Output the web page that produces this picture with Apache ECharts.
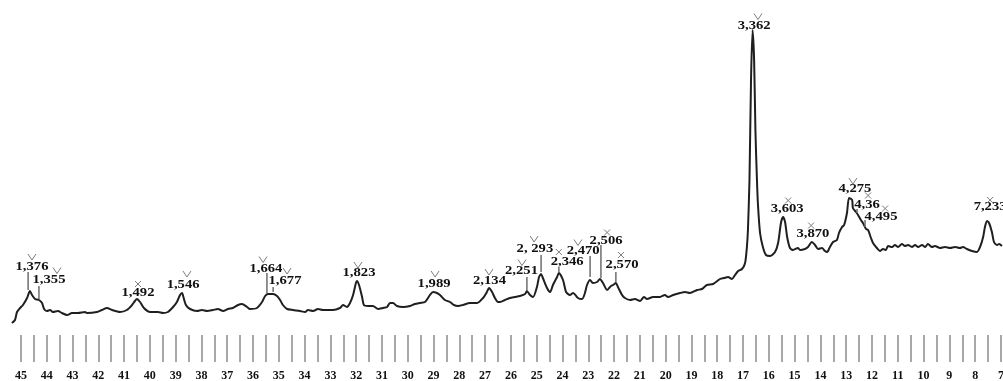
<!DOCTYPE html>
<html>
<head>
<meta charset="utf-8">
<script src="https://cdn.jsdelivr.net/npm/echarts@6/dist/echarts.min.js"></script>
<style>
  html, body { margin: 0; padding: 0; background: #ffffff; }
  #chart { width: 1003px; height: 381px; }
</style>
</head>
<body>
<div id="chart"></div>
<script>
// Diffractogram trace, [2θ, counts], split by angular range (high angle → low angle)
const scan45to36 = [
  [45.35,12],[45.23,15],[45.15,23],[45.03,27],[44.92,30],[44.76,37],[44.65,44],[44.57,40],[44.45,36],
  [44.30,35],[44.18,32],[44.10,26],[43.99,24],[43.87,25],[43.76,23],[43.56,24],[43.41,22],[43.21,20],
  [43.02,22],[42.79,22],[42.51,23],[42.44,22],[42.05,23],[41.86,25],[41.66,27],[41.47,25],[41.16,23],
  [40.89,25],[40.69,30],[40.58,34],[40.50,36],[40.38,33],[40.23,27],[39.99,23],[39.68,23],[39.49,22],
  [39.30,23],[39.10,28],[38.95,33],[38.83,40],[38.75,42],[38.72,40],[38.60,30],[38.44,26],[38.17,24],
  [37.98,25],[37.78,24],[37.55,25],[37.36,26],[37.16,24],[36.97,26],[36.78,27],[36.58,30],[36.43,31],
  [36.23,28]
];
const scan36to26 = [
  [36.12,26],[35.85,27],[35.65,33],[35.53,39],[35.42,41],[35.22,41],[35.07,39],[34.95,35],[34.84,30],
  [34.68,26],[34.45,25],[34.18,24],[33.98,23],[33.87,25],[33.67,24],[33.48,26],[33.29,25],[32.90,25],
  [32.63,27],[32.51,30],[32.36,28],[32.24,32],[32.12,40],[32.01,52],[31.97,54],[31.89,50],[31.77,38],
  [31.70,30],[31.54,29],[31.35,29],[31.15,26],[30.96,27],[30.80,28],[30.69,32],[30.57,32],[30.42,29],
  [30.18,28],[29.91,29],[29.72,31],[29.53,32],[29.33,33],[29.14,40],[29.02,43],[28.87,42],[28.75,40],
  [28.56,35],[28.36,33],[28.21,30],[28.05,29],[27.86,30],[27.59,32],[27.31,32],[27.08,37],[26.93,43],
  [26.85,47],[26.73,43],[26.62,37],[26.50,33]
];
const scan26to17 = [
  [26.42,33],[26.23,35],[26.04,37],[25.84,38],[25.65,39],[25.45,41],[25.38,44],[25.26,40],[25.14,38],
  [24.99,48],[24.91,58],[24.83,61],[24.76,57],[24.60,47],[24.48,43],[24.37,50],[24.21,58],[24.14,62],
  [23.98,55],[23.86,43],[23.71,40],[23.59,42],[23.40,37],[23.24,36],[23.13,42],[23.05,50],[22.93,55],
  [22.82,52],[22.66,53],[22.55,56],[22.43,52],[22.27,45],[22.12,49],[22.04,50],[21.93,52],[21.85,48],
  [21.69,40],[21.58,37],[21.38,35],[21.19,36],[20.99,34],[20.84,38],[20.72,36],[20.49,38],[20.22,38],
  [20.03,40],[19.91,38],[19.71,40],[19.44,42],[19.25,43],[19.06,42],[18.78,45],[18.59,46],[18.40,50],
  [18.16,51],[17.89,56],[17.74,57],[17.58,58],[17.43,56],[17.31,60],[17.19,64],[17.04,66]
];
const scan17to12 = [
  [16.92,72],[16.85,88],[16.81,105],[16.75,155],[16.69,255],[16.63,305],[16.57,275],[16.52,205],
  [16.46,155],[16.42,130],[16.34,102],[16.23,88],[16.11,80],[15.95,79],[15.76,83],[15.64,92],[15.53,112],
  [15.45,118],[15.37,113],[15.29,98],[15.18,87],[15.06,85],[14.87,87],[14.79,85],[14.60,86],[14.48,88],
  [14.33,93],[14.21,90],[14.09,86],[13.94,87],[13.82,84],[13.74,83],[13.63,88],[13.51,93],[13.36,95],
  [13.28,102],[13.16,108],[13.08,110],[12.97,122],[12.89,137],[12.77,135],[12.74,127],[12.62,123],
  [12.54,120],[12.43,115],[12.35,112],[12.23,106],[12.15,105],[12.04,97],[11.96,92]
];
const scan12to7 = [
  [11.81,87],[11.69,84],[11.57,86],[11.46,85],[11.38,89],[11.22,88],[11.11,90],[10.99,88],[10.84,91],
  [10.72,89],[10.60,90],[10.45,88],[10.33,90],[10.21,88],[10.06,90],[9.94,88],[9.83,91],[9.67,88],
  [9.56,89],[9.36,87],[9.17,88],[8.97,87],[8.78,88],[8.59,87],[8.47,88],[8.32,86],[8.12,84],[7.93,83],
  [7.81,88],[7.69,98],[7.62,108],[7.54,114],[7.46,112],[7.35,103],[7.27,93],[7.15,90],[7.07,91],[6.96,89]
];

// Axis scale labels (2θ, degrees)
const tickLabels = [45,44,43,42,41,40,39,38,37,36,35,34,33,32,31,30,29,28,27,26,25,24,23,22,21,20,19,18,17,16,15,14,13,12,11,10,9,8,7];

// Peak annotations: d-spacing text, phase marker, label/marker placement in (2θ, counts)
const peakText   = ['1,376','1,355','1,492','1,546','1,664','1,677','1,823','1,989','2,134','2,251','2, 293','2,346','2,470','2,506','2,570','3,362','3,603','3,870','4,275','4,36','4,495','7,233'];
const peakKind   = ['v','v','x','v','v','v','v','v','v','v','v','x','v','x','x','v','x','x','v','x','x','x'];
const label2T    = [44.57,43.91,40.46,38.71,35.50,34.76,31.89,28.98,26.83,25.59,25.07,23.82,23.20,22.31,21.69,16.57,15.29,14.29,12.66,12.19,11.65,7.42];
const labelLevel = [68.5,55,42.5,50.5,66,54,62,51,54,64,86,73.5,84.5,94.5,70.5,309.5,126,101,146,130.5,118.5,128];
const mark2T     = [44.57,43.60,40.46,38.56,35.61,34.68,31.93,28.94,26.85,25.57,25.10,24.14,23.40,22.27,21.73,16.42,15.25,14.36,12.74,12.15,11.49,7.42];
const markLevel  = [78,64.5,51,61,75.5,64,70,61,63,72.5,96,83,92.5,102.5,80,318.5,134.5,109.5,154,139.5,126.5,135];
const leader2T   = [44.72,44.30,null,null,35.46,35.22,null,null,null,25.38,24.83,24.14,22.93,22.51,21.93,null,null,null,null,12.58,12.27,null];
const leaderTop  = [63,49,null,null,62,48,null,null,null,58,80,68,79,90,63,null,null,null,null,126,115,null];
const leaderBot  = [45,36,null,null,42,43,null,null,null,45,63,63,58,57,53,null,null,null,null,122,108,null];

const trace = [].concat(scan45to36, scan36to26, scan26to17, scan17to12, scan12to7);

// half-degree ruler marks between the labelled degrees
const rulerMarks = [];
for (let v = 45; v >= 7; v -= 0.5) rulerMarks.push(v);

const chart = echarts.init(document.getElementById('chart'), null, { renderer: 'canvas' });

const markerStyle = { stroke: '#7c7c7c', lineWidth: 1, fill: 'none' };

chart.setOption({
  backgroundColor: '#ffffff',
  animation: false,
  grid: { left: 0, right: 0, top: 15, bottom: 46, containLabel: false, outerBoundsMode: 'none' },
  xAxis: {
    type: 'value',
    inverse: true,
    min: 6.92,
    max: 45.81,
    axisLine: { show: false },
    splitLine: { show: false },
    axisTick: {
      show: true,
      customValues: rulerMarks,
      length: 27,
      lineStyle: { color: '#a8a8a8', width: 2 }
    },
    axisLabel: {
      customValues: tickLabels,
      margin: 35,
      color: '#111111',
      fontFamily: 'Liberation Serif',
      fontWeight: 'bold',
      fontSize: 12
    }
  },
  yAxis: { type: 'value', min: 0, max: 320, show: false },
  series: [
    {
      type: 'line',
      data: trace,
      showSymbol: false,
      smooth: 0.25,
      lineStyle: { color: '#1f1f1f', width: 2 },
      clip: true,
      z: 2
    },
    {
      type: 'custom',
      clip: false,
      z: 3,
      data: peakText.map((_, i) => [label2T[i], labelLevel[i]]),
      encode: { x: 0, y: 1 },
      renderItem: function (params, api) {
        const i = params.dataIndex;
        const children = [];
        const t = api.coord([label2T[i], labelLevel[i]]);
        children.push({
          type: 'text', x: t[0], y: t[1], scaleX: 1.22,
          style: {
            text: peakText[i], fill: '#111111',
            font: 'bold 12px "Liberation Serif"',
            align: 'center', verticalAlign: 'middle'
          }
        });
        const m = api.coord([mark2T[i], markLevel[i]]);
        if (peakKind[i] === 'v') {
          children.push({
            type: 'polyline',
            shape: { points: [[m[0] - 4, m[1] - 3], [m[0], m[1] + 3], [m[0] + 4, m[1] - 3]] },
            style: markerStyle
          });
        } else {
          children.push(
            { type: 'line', shape: { x1: m[0] - 3, y1: m[1] - 3, x2: m[0] + 3, y2: m[1] + 3 }, style: markerStyle },
            { type: 'line', shape: { x1: m[0] - 3, y1: m[1] + 3, x2: m[0] + 3, y2: m[1] - 3 }, style: markerStyle }
          );
        }
        if (leader2T[i] !== null) {
          const a = api.coord([leader2T[i], leaderTop[i]]);
          const b = api.coord([leader2T[i], leaderBot[i]]);
          children.push({
            type: 'line',
            shape: { x1: a[0], y1: a[1], x2: b[0], y2: b[1] },
            style: { stroke: '#6e6e6e', lineWidth: 1.5 }
          });
        }
        return { type: 'group', children: children };
      }
    }
  ]
});
</script>
</body>
</html>
